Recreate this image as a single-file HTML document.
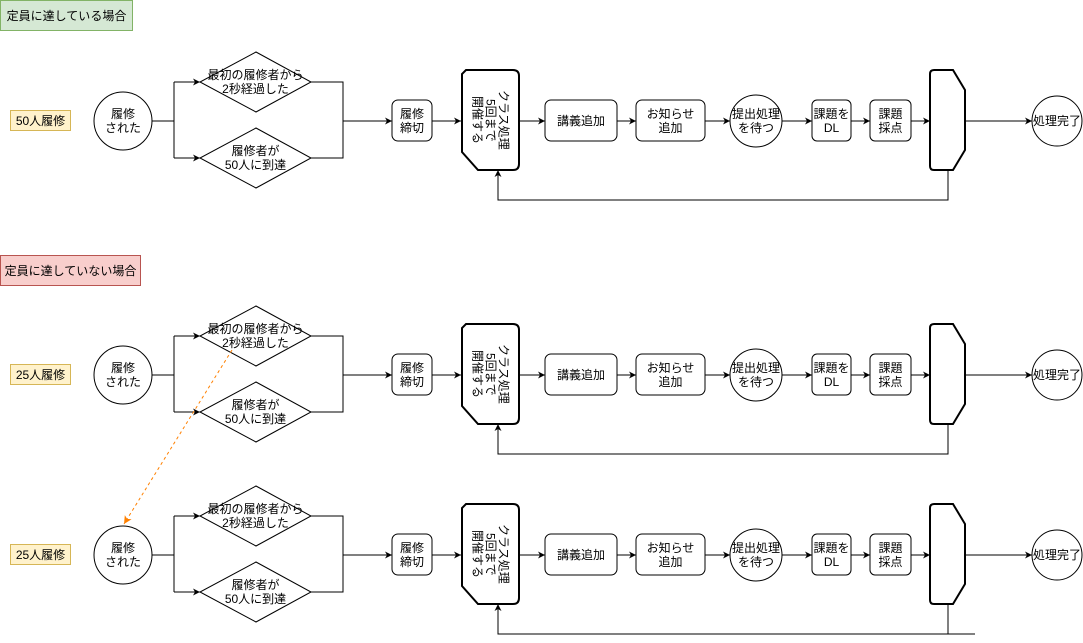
<!DOCTYPE html>
<html><head><meta charset="utf-8"><style>
html,body{margin:0;padding:0;background:#fff;width:1083px;height:643px;overflow:hidden}
body{position:relative;font-family:"Liberation Sans","Noto Sans CJK JP",sans-serif;font-size:12px;color:#000}
svg{position:absolute;left:0;top:0}
.t{position:absolute;display:flex;align-items:center;justify-content:center;text-align:center;line-height:14px;white-space:nowrap}
.v{writing-mode:vertical-lr;text-orientation:sideways;line-height:13px}
</style></head><body>
<svg width="1083" height="643" viewBox="0 0 1083 643">
<defs>
<marker id="a" markerWidth="8" markerHeight="8" refX="7" refY="4" orient="auto" markerUnits="userSpaceOnUse"><path d="M0,0.5 L7,4 L0,7.5 L2,4z" fill="#000"/></marker>
<marker id="o" markerWidth="9" markerHeight="9" refX="8" refY="4.5" orient="auto" markerUnits="userSpaceOnUse"><path d="M0,0.5 L8,4.5 L0,8.5 L2,4.5z" fill="#ff8000"/></marker>
<g id="row" fill="none" stroke="#000" stroke-width="1">
<circle cx="123" cy="121" r="29" fill="#fff"/>
<path d="M152,121 H174 M174,82 V158"/>
<path d="M174,82 H200" marker-end="url(#a)"/>
<path d="M174,158 H200" marker-end="url(#a)"/>
<polygon points="256,52 311,82 256,112 200,82" fill="#fff"/>
<polygon points="256,128 311,158 256,188 200,158" fill="#fff"/>
<path d="M311,82 H343 V158 H311 M343,121 H392" marker-end="url(#a)"/>
<rect x="392" y="100" width="40" height="41" rx="6" fill="#fff"/>
<path d="M432,121 H461" marker-end="url(#a)"/>
<path d="M466,70 H513 Q519,70 519,76 V164 Q519,170 513,170 H478 L462,152 V74 Z" fill="#fff" stroke-width="2"/>
<path d="M519,121 H545" marker-end="url(#a)"/>
<rect x="545" y="100" width="72" height="41" rx="6" fill="#fff"/>
<path d="M617,121 H636" marker-end="url(#a)"/>
<rect x="636" y="100" width="69" height="41" rx="6" fill="#fff"/>
<path d="M705,121 H730" marker-end="url(#a)"/>
<circle cx="756" cy="121" r="26" fill="#fff"/>
<path d="M782,121 H812" marker-end="url(#a)"/>
<rect x="812" y="100" width="39" height="41" rx="5" fill="#fff"/>
<path d="M851,121 H870" marker-end="url(#a)"/>
<rect x="870" y="100" width="41" height="41" rx="5" fill="#fff"/>
<path d="M911,121 H930" marker-end="url(#a)"/>
<path d="M934,70 H953 L965,90 V150 L953,170 H934 Q930,170 930,166 V74 Q930,70 934,70 Z" fill="#fff" stroke-width="2"/>
<path d="M965,121 H1032" marker-end="url(#a)"/>
<circle cx="1057" cy="121" r="25" fill="#fff"/>
<path d="M948,170 V200 H498 V170" marker-end="url(#a)"/>
</g>
</defs>
<rect x="0.5" y="0.5" width="132" height="30" fill="#d5e8d4" stroke="#82b366"/>
<rect x="0.5" y="255.5" width="140" height="30" fill="#f8cecc" stroke="#b85450"/>
<rect x="10.5" y="110.5" width="60" height="20" fill="#fff2cc" stroke="#d6b656"/>
<rect x="10.5" y="364.5" width="60" height="20" fill="#fff2cc" stroke="#d6b656"/>
<rect x="10.5" y="544.5" width="60" height="20" fill="#fff2cc" stroke="#d6b656"/>
<use href="#row"/>
<use href="#row" y="254"/>
<use href="#row" y="434"/>
<path d="M948,634 H975" stroke="#000" fill="none"/>
<path d="M232,350 L124,524" stroke="#ff8000" stroke-dasharray="3,3" fill="none" marker-end="url(#o)"/>
</svg>
<div class="t" style="left:0;top:0;width:133px;height:31px">定員に達している場合</div>
<div class="t" style="left:0;top:255px;width:141px;height:31px">定員に達していない場合</div>
<div class="t" style="left:10px;top:111px;width:61px;height:20px">50人履修</div>
<div class="t" style="left:10px;top:365px;width:61px;height:20px">25人履修</div>
<div class="t" style="left:10px;top:545px;width:61px;height:20px">25人履修</div>

<div style="position:absolute;left:0;top:0;width:1083px;height:200px">
<div class="t" style="left:94px;top:92px;width:58px;height:58px">履修<br>された</div>
<div class="t" style="left:200px;top:52px;width:111px;height:60px">最初の履修者から<br>2秒経過した</div>
<div class="t" style="left:200px;top:128px;width:111px;height:60px">履修者が<br>50人に到達</div>
<div class="t" style="left:392px;top:100px;width:40px;height:41px">履修<br>締切</div>
<div class="t" style="left:461px;top:70px;width:58px;height:100px"><span class="v">開催する<br>5回まで<br>クラス処理</span></div>
<div class="t" style="left:545px;top:100px;width:72px;height:41px">講義追加</div>
<div class="t" style="left:636px;top:100px;width:69px;height:41px">お知らせ<br>追加</div>
<div class="t" style="left:730px;top:95px;width:52px;height:52px">提出処理<br>を待つ</div>
<div class="t" style="left:812px;top:100px;width:39px;height:41px">課題を<br>DL</div>
<div class="t" style="left:870px;top:100px;width:41px;height:41px">課題<br>採点</div>
<div class="t" style="left:1032px;top:96px;width:50px;height:50px">処理完了</div>
</div>
<div style="position:absolute;left:0;top:254px;width:1083px;height:200px">
<div class="t" style="left:94px;top:92px;width:58px;height:58px">履修<br>された</div>
<div class="t" style="left:200px;top:52px;width:111px;height:60px">最初の履修者から<br>2秒経過した</div>
<div class="t" style="left:200px;top:128px;width:111px;height:60px">履修者が<br>50人に到達</div>
<div class="t" style="left:392px;top:100px;width:40px;height:41px">履修<br>締切</div>
<div class="t" style="left:461px;top:70px;width:58px;height:100px"><span class="v">開催する<br>5回まで<br>クラス処理</span></div>
<div class="t" style="left:545px;top:100px;width:72px;height:41px">講義追加</div>
<div class="t" style="left:636px;top:100px;width:69px;height:41px">お知らせ<br>追加</div>
<div class="t" style="left:730px;top:95px;width:52px;height:52px">提出処理<br>を待つ</div>
<div class="t" style="left:812px;top:100px;width:39px;height:41px">課題を<br>DL</div>
<div class="t" style="left:870px;top:100px;width:41px;height:41px">課題<br>採点</div>
<div class="t" style="left:1032px;top:96px;width:50px;height:50px">処理完了</div>
</div>
<div style="position:absolute;left:0;top:434px;width:1083px;height:200px">
<div class="t" style="left:94px;top:92px;width:58px;height:58px">履修<br>された</div>
<div class="t" style="left:200px;top:52px;width:111px;height:60px">最初の履修者から<br>2秒経過した</div>
<div class="t" style="left:200px;top:128px;width:111px;height:60px">履修者が<br>50人に到達</div>
<div class="t" style="left:392px;top:100px;width:40px;height:41px">履修<br>締切</div>
<div class="t" style="left:461px;top:70px;width:58px;height:100px"><span class="v">開催する<br>5回まで<br>クラス処理</span></div>
<div class="t" style="left:545px;top:100px;width:72px;height:41px">講義追加</div>
<div class="t" style="left:636px;top:100px;width:69px;height:41px">お知らせ<br>追加</div>
<div class="t" style="left:730px;top:95px;width:52px;height:52px">提出処理<br>を待つ</div>
<div class="t" style="left:812px;top:100px;width:39px;height:41px">課題を<br>DL</div>
<div class="t" style="left:870px;top:100px;width:41px;height:41px">課題<br>採点</div>
<div class="t" style="left:1032px;top:96px;width:50px;height:50px">処理完了</div>
</div>
</body></html>
